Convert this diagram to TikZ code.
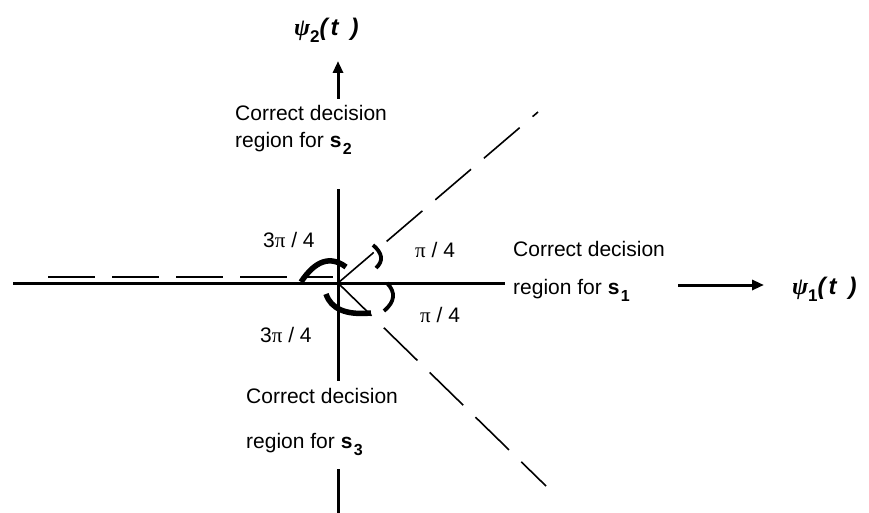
\documentclass[tikz,border=0pt]{standalone}
\usepackage{fontspec}
\setmainfont{Liberation Sans}
\newfontfamily\symfont{Liberation Serif}
\usetikzlibrary{positioning,arrows.meta,calc}

% angle mark: style #1, ends #2 and #3, passing through #4
\providecommand{\amark}[4]{\draw[#1] (#2)
  .. controls ($1.3333*(#4)-0.3333*(#3)$) and ($1.3333*(#4)-0.3333*(#2)$) .. (#3);}
\providecommand{\regs}[1]{\textbf{s}\hspace{1.5pt}\raisebox{-7pt}{\fontsize{16}{16}\selectfont\bfseries #1}}
\providecommand{\pii}{{\symfont π}}
\providecommand{\psilab}[1]{{\symfont\bfseries\itshape ψ}\raisebox{-7pt}{\fontsize{17}{17}\selectfont\bfseries #1}%
  {\bfseries\itshape (\hspace{3pt}t\hspace{12pt})}}

\begin{document}
\begin{tikzpicture}[
  x=1pt, y=-1pt,
  font=\fontsize{21}{25}\selectfont,
  lbl/.style={anchor=base west, inner sep=0pt},
  psl/.style={anchor=base west, inner sep=0pt, font=\fontsize{24}{28}\selectfont},
  axis/.style={draw=black, line width=3pt},
  dsh/.style={draw=black, line width=1.6pt, dash pattern=on 47pt off 17pt},
  arr/.style={draw=black, line width=3pt, -{Triangle[length=12pt,width=10pt]}},
  bigmk/.style={draw=black, line width=5.5pt},
  smallmk/.style={draw=black, line width=3.8pt},
]
\useasboundingbox (0,0) rectangle (869,513);

% ---------------- axes ----------------
\coordinate (O)   at (338,283);
\coordinate (xl)  at (13,283);
\coordinate (xr)  at (505,283);
\coordinate (yt)  at (338,189);
\coordinate (yb)  at (338,381);
\coordinate (yb2) at (338,469);
\coordinate (ye)  at (338,513);
\draw[axis] (xl) -- (xr);
\draw[axis] (yt) -- (yb);
\draw[axis] (yb2) -- (ye);

% ---------------- axis arrows ----------------
\coordinate (a2s) at (338,99);
\coordinate (a2e) at (338,61);
\coordinate (a1s) at (678,285);
\coordinate (a1e) at (764,285);
\draw[arr] (a2s) -- (a2e);
\draw[arr] (a1s) -- (a1e);

% ---------------- decision boundaries ----------------
\coordinate (dl) at (48,277);
\coordinate (dr) at (333,277);
\coordinate (du) at (538,112);
\coordinate (dd) at (546,486);
\draw[dsh] (dl) -- (dr);
\draw[dsh] (O) -- (du);
\draw[dsh] (O) -- (dd);

% ---------------- angle marks ----------------
\amark{bigmk}{301,282}{346,267}{323,262}     % 3pi/4 upper
\amark{smallmk}{373,245}{376,268}{381,257}   % pi/4 upper
\amark{smallmk}{387,283}{384,311}{393,297}   % pi/4 lower
\amark{bigmk}{326,294}{371,313}{341,310}     % 3pi/4 lower

\node[lbl] (aUL) at (263,247) {3\pii\ / 4};
\node[lbl] (aLL) at (260,342) {3\pii\ / 4};
\node[lbl] (aUR) at (415,257) {\pii\ / 4};
\node[lbl] (aLR) at (420,322) {\pii\ / 4};

% ---------------- region labels ----------------
\node[lbl] (up1) at (235,121) {Correct decision};
\node[lbl] (up2) at (235,148) {region for \regs{2}};
\node[lbl] (rt1) at (513,256) {Correct decision};
\node[lbl] (rt2) at (513,294) {region for \regs{1}};
\node[lbl] (lo1) at (246,403) {Correct decision};
\node[lbl] (lo2) at (246,448) {region for \regs{3}};

% ---------------- basis functions ----------------
\node[psl] (psi1) at (792,294) {\psilab{1}};
\node[psl] (psi2) at (294,36)  {\psilab{2}};

\end{tikzpicture}
\end{document}
